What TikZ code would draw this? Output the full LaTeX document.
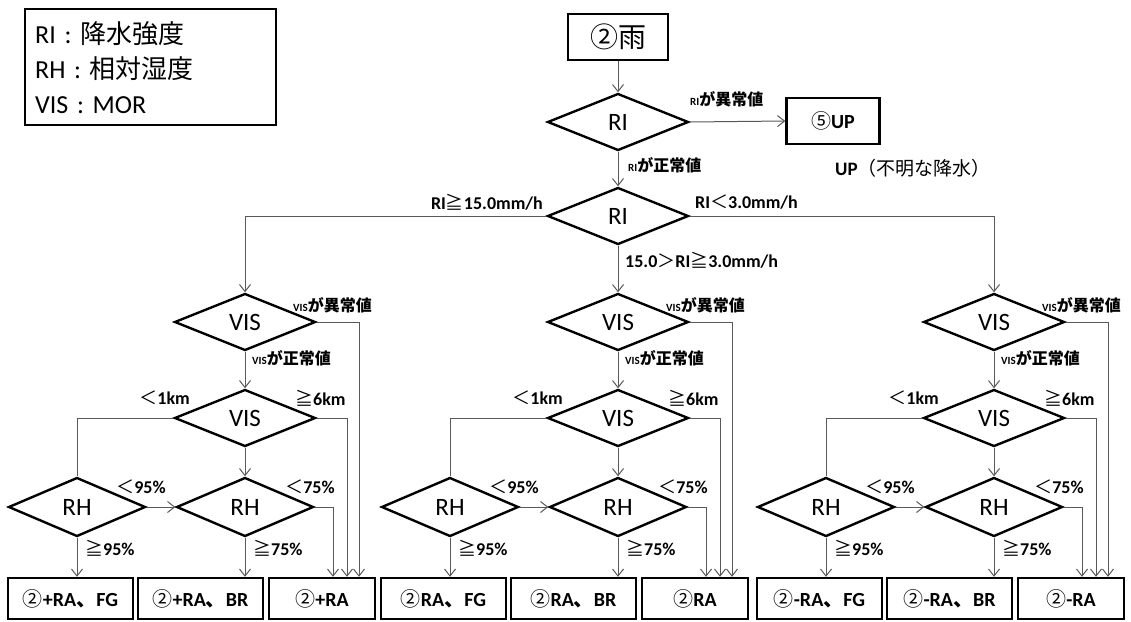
\documentclass[tikz,border=0pt]{standalone}
\usepackage{fontspec}
\setmainfont{Carlito}
\newfontfamily\jp{Noto Sans CJK JP}
\usetikzlibrary{arrows.meta,shapes.geometric}
\newcommand{\sym}[1]{{\jp\mdseries #1}}

\begin{document}
\begin{tikzpicture}[x=1pt,y=-1pt,
  dia/.style={diamond,draw,line width=2.4pt,inner sep=0pt,minimum width=141pt,minimum height=57pt,font=\fontsize{25}{25}\selectfont},
  res/.style={draw,line width=2.4pt,minimum height=41pt,inner sep=0pt,font=\fontsize{20}{20}\selectfont\bfseries},
  lab/.style={inner sep=0pt,font=\fontsize{18}{18}\selectfont\bfseries},
  con/.style={draw=black!65,line width=1pt},
  arr/.style={con,-{Straight Barb[length=7pt,width=11pt]}}]

\useasboundingbox (0,0) rectangle (1131,621);

\node[draw,line width=2.4pt,anchor=north west,minimum width=251pt,minimum height=116pt,
  align=left,text width=231pt,inner xsep=10pt,font=\fontsize{26}{35}\selectfont] (key) at (24,8)
  {RI : {\jp 降水強度}\\RH : {\jp 相対湿度}\\VIS : MOR};

\node[draw,line width=2.4pt,minimum width=100pt,minimum height=46pt,font=\fontsize{28}{28}\selectfont\jp] (rain) at (618,37) {②雨};
\node[dia] (ri1) at (618,122) {RI};
\node[res,minimum width=93pt,minimum height=46pt] (up) at (833,121) {\sym{⑤}UP};
\node[anchor=west,inner sep=0pt,font=\fontsize{19}{19}\selectfont] (upnote) at (835,168) {\textbf{UP}{\jp （不明な降水）}};
\node[dia] (ri2) at (618,216) {RI};

\draw[arr] (rain.south) -- (ri1.north);
\draw[arr] (ri1.east) -- (up.west);
\draw[arr] (ri1.south) -- (ri2.north);

\node[lab,anchor=west] at (690,99) {{\fontsize{11}{11}\selectfont RI}{\jp\fontsize{16}{16}\selectfont が異常値}};
\node[lab,anchor=west] at (628,165) {{\fontsize{11}{11}\selectfont RI}{\jp\fontsize{16}{16}\selectfont が正常値}};
\node[lab,anchor=east] at (543,202) {RI\sym{≧}15.0mm/h};
\node[lab,anchor=west] at (695,202) {RI\sym{＜}3.0mm/h};
\node[lab,anchor=west] at (625,260) {15.0\sym{＞}RI\sym{≧}3.0mm/h};

\foreach \cx/\s [count=\i] in {245/{+},618/{},994/{-}}{
  \node[dia] (va\i) at (\cx,322) {VIS};
  \node[dia] (vb\i) at (\cx,418) {VIS};
  \node[dia,minimum width=137pt,minimum height=59pt] (ha\i) at (\cx-168,507) {RH};
  \node[dia,minimum width=137pt,minimum height=59pt] (hb\i) at (\cx,507) {RH};
  \node[res,minimum width=125pt] (ba\i) at (\cx-174.5,598.5) {\sym{②}\s RA{\jp 、}FG};
  \node[res,minimum width=125pt] (bb\i) at (\cx-44.5,598.5) {\sym{②}\s RA{\jp 、}BR};
  \node[res,minimum width=106pt] (bc\i) at (\cx+77,598.5) {\sym{②}\s RA};

  \draw[arr] (va\i.south) -- (vb\i.north);
  \draw[arr] (vb\i.south) -- (hb\i.north);
  \draw[con] (vb\i.west) -| (ha\i.north);
  \draw[arr] (ha\i.east) -- (hb\i.west);
  \draw[arr] (ha\i.south) -- (ha\i.south |- ba\i.north);
  \draw[arr] (hb\i.south) -- (hb\i.south |- bb\i.north);
  \draw[arr] (hb\i.east) -| ([xshift=11pt]bc\i.north);
  \draw[arr] (vb\i.east) -| ([xshift=25pt]bc\i.north);
  \draw[arr] (va\i.east) -| ([xshift=37pt]bc\i.north);

  \node[lab,anchor=west] at (\cx+48,305) {{\fontsize{11}{11}\selectfont VIS}{\jp\fontsize{16}{16}\selectfont が異常値}};
  \node[lab,anchor=west] at (\cx+7,358) {{\fontsize{11}{11}\selectfont VIS}{\jp\fontsize{16}{16}\selectfont が正常値}};
  \node[lab,anchor=east] at (\cx-55,398) {\sym{＜}1km};
  \node[lab,anchor=west] at (\cx+50,398) {\sym{≧}6km};
  \node[lab] at (\cx-104,487) {\sym{＜}95\%};
  \node[lab] at (\cx+65,487) {\sym{＜}75\%};
  \node[lab,anchor=west] at (\cx-160,548) {\sym{≧}95\%};
  \node[lab,anchor=west] at (\cx+8,548) {\sym{≧}75\%};
}

\draw[arr] (ri2.west) -| (va1.north);
\draw[arr] (ri2.south) -- (va2.north);
\draw[arr] (ri2.east) -| (va3.north);
\end{tikzpicture}
\end{document}
